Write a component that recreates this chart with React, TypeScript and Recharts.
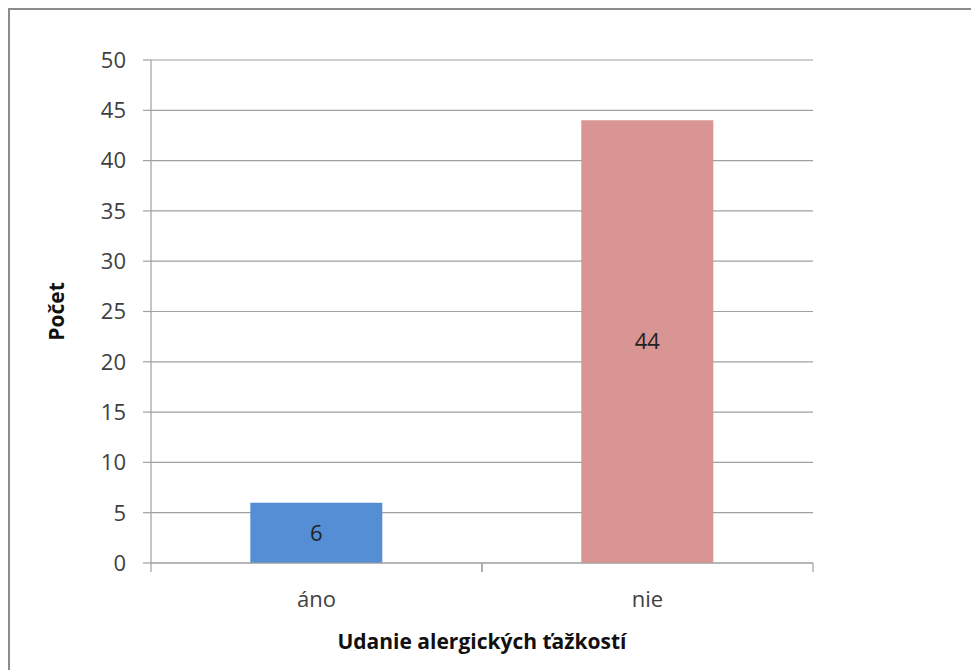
import {
  BarChart,
  Bar,
  Cell,
  XAxis,
  YAxis,
  CartesianGrid,
  LabelList,
  Label,
} from "recharts";

const answers = ["áno", "nie"];
const counts = [6, 44];
const barColors = ["#558ED5", "#D99594"];
const countTicks = [0, 5, 10, 15, 20, 25, 30, 35, 40, 45, 50];
const xTitle = "Udanie alergických ťažkostí";
const yTitle = "Počet";

const FONT = "'Open Sans', 'DejaVu Sans', sans-serif";
const LINE = "#a0a0a0";

const data = answers.map((answer, i) => ({ answer, count: counts[i] }));

// category label plus tick marks at the edges of its band
function AnswerTick({ x, y, payload }: any) {
  const half = payload.offset ?? 0;
  return (
    <g>
      <line x1={x - half} x2={x - half} y1={y} y2={y + 9} stroke={LINE} strokeWidth={1.2} />
      <line x1={x + half} x2={x + half} y1={y} y2={y + 9} stroke={LINE} strokeWidth={1.2} />
      <text
        x={x}
        y={y + 28}
        dy="0.71em"
        textAnchor="middle"
        fill="#404040"
        fontSize={22}
        fontFamily={FONT}
      >
        {payload.value}
      </text>
    </g>
  );
}

export default function App() {
  return (
    <div
      style={{
        position: "fixed",
        top: 8,
        left: 8,
        width: 963,
        height: 662,
        overflow: "hidden",
        fontFamily: FONT,
      }}
    >
      <div
        style={{
          width: 980,
          height: 700,
          border: "2px solid #8c8c8c",
          background: "#fff",
        }}
      >
        <BarChart
          width={957}
          height={650}
          data={data}
          margin={{ top: 50, right: 154, bottom: 0, left: 0 }}
          barCategoryGap="30%"
        >
          <CartesianGrid vertical={false} stroke={LINE} strokeWidth={1.2} />
          <XAxis
            dataKey="answer"
            height={97}
            axisLine={{ stroke: LINE, strokeWidth: 1.2 }}
            tickLine={false}
            tickSize={0}
            tickMargin={0}
            tick={<AnswerTick />}
          >
            <Label
              content={({ viewBox }: any) => (
                <text
                  x={viewBox.x + viewBox.width / 2}
                  y={viewBox.y + 78}
                  textAnchor="middle"
                  dominantBaseline="central"
                  fontFamily={FONT}
                  fontSize={21}
                  fontWeight="bold"
                  fill="#111"
                >
                  {xTitle}
                </text>
              )}
            />
          </XAxis>
          <YAxis
            width={141}
            domain={[0, 50]}
            ticks={countTicks}
            interval={0}
            axisLine={{ stroke: LINE, strokeWidth: 1.2 }}
            tickLine={{ stroke: LINE, strokeWidth: 1.2 }}
            tickSize={8}
            tickMargin={17}
            tick={{ fill: "#404040", fontSize: 22, fontFamily: FONT }}
          >
            <Label
              content={({ viewBox }: any) => {
                const cx = 46;
                const cy = viewBox.y + viewBox.height / 2;
                return (
                  <text
                    x={cx}
                    y={cy}
                    textAnchor="middle"
                    dominantBaseline="central"
                    transform={`rotate(-90, ${cx}, ${cy})`}
                    fontFamily={FONT}
                    fontSize={21}
                    fontWeight="bold"
                    fill="#111"
                  >
                    {yTitle}
                  </text>
                );
              }}
            />
          </YAxis>
          <Bar dataKey="count" isAnimationActive={false}>
            {data.map((d, i) => (
              <Cell key={d.answer} fill={barColors[i]} />
            ))}
            <LabelList
              dataKey="count"
              position="center"
              fill="#222"
              fontSize={22}
              fontFamily={FONT}
            />
          </Bar>
        </BarChart>
      </div>
    </div>
  );
}
